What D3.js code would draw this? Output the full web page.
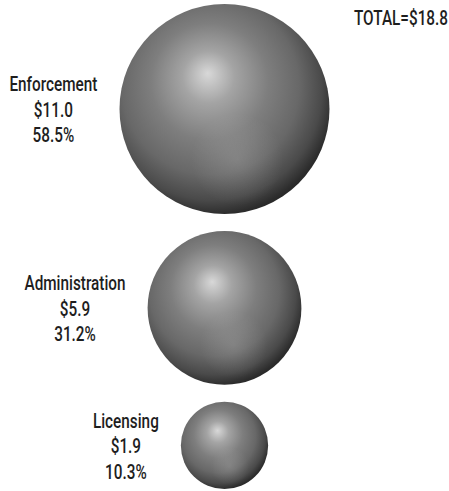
<!DOCTYPE html>
<html>
<head>
<meta charset="utf-8">
<script src="https://cdn.jsdelivr.net/npm/d3@7"></script>
<style>
  body { margin: 0; background: #fff; }
  svg { display: block; }
</style>
</head>
<body>
<div id="container"></div>
<script>
/* DATA */
const categories = ["Enforcement", "Administration", "Licensing"];
const amounts = [11.0, 5.9, 1.9];
const shares = ["58.5%", "31.2%", "10.3%"];
const totalLabel = "TOTAL=$18.8";

/* CONSTANTS */
const width = 449,
  height = 491,
  cx = 224.5,
  startY = 4,
  gap = 17,
  labelGap = 22,
  fontSize = "20px",
  font = "Roboto, 'Noto Sans', sans-serif";

const svg = d3.select("#container")
  .append("svg")
  .attr("width", width)
  .attr("height", height);

const defs = svg.append("defs");

// main sphere shading
const shade = defs.append("radialGradient")
  .attr("id", "shade")
  .attr("cx", 0.44).attr("cy", 0.42).attr("r", 0.62)
  .attr("fx", 0.42).attr("fy", 0.33);
[[0, "#d8d8d8"], [0.2, "#a4a4a4"], [0.45, "#7e7e7e"], [0.68, "#686868"],
 [0.85, "#4a4a4a"], [0.95, "#2c2c2c"], [1, "#242424"]]
  .forEach(([o, c]) => shade.append("stop").attr("offset", o).attr("stop-color", c));

// faint reflected light at the lower right
const glow = defs.append("radialGradient")
  .attr("id", "glow")
  .attr("cx", 0.56).attr("cy", 0.74).attr("r", 0.22);
glow.append("stop").attr("offset", 0).attr("stop-color", "#fff").attr("stop-opacity", 0.14);
glow.append("stop").attr("offset", 1).attr("stop-color", "#fff").attr("stop-opacity", 0);

const data = categories.map((c, i) => ({ name: c, value: amounts[i], share: shares[i] }));

const r = d3.scaleSqrt()
  .domain([0, d3.max(amounts)])
  .range([0, 105]);

// stack circles top to bottom
let y = startY;
data.forEach(d => {
  d.r = r(d.value);
  d.cy = y + d.r;
  y += 2 * d.r + gap;
});

const balls = svg.selectAll("g.ball")
  .data(data)
  .join("g")
  .attr("class", "ball");

balls.append("circle")
  .attr("cx", cx)
  .attr("cy", d => d.cy)
  .attr("r", d => d.r)
  .attr("fill", "url(#shade)");

balls.append("circle")
  .attr("cx", cx)
  .attr("cy", d => d.cy)
  .attr("r", d => d.r)
  .attr("fill", "url(#glow)");

// condensed look: squeeze text horizontally so "Enforcement" is ~88px wide
const probe = svg.append("text")
  .style("font-family", font).style("font-size", fontSize).style("font-weight", 500)
  .text(categories[0]);
const squeeze = 88 / probe.node().getComputedTextLength();
probe.remove();

// LABELS
balls.each(function (d) {
  const g = d3.select(this);
  const lines = [d.name, "$" + d.value.toFixed(1), d.share];
  const t = g.append("text")
    .attr("text-anchor", "middle")
    .style("font-family", font)
    .style("font-size", fontSize)
    .style("font-weight", 500)
    .style("fill", "#1e1e1e");
  lines.forEach((s, i) => {
    t.append("tspan")
      .attr("x", 0)
      .attr("y", d.cy + 8 + (i - 1) * 25.5)
      .text(s);
  });
  const w = t.node().getBBox().width * squeeze;
  t.attr("transform", `translate(${cx - d.r - labelGap - w / 2},0) scale(${squeeze},1)`);
});

// TOTAL
svg.append("text")
  .attr("text-anchor", "end")
  .attr("transform", `translate(448,25) scale(${squeeze},1)`)
  .style("font-family", font)
  .style("font-size", fontSize)
  .style("font-weight", 500)
  .style("fill", "#1e1e1e")
  .text(totalLabel);
</script>
</body>
</html>
